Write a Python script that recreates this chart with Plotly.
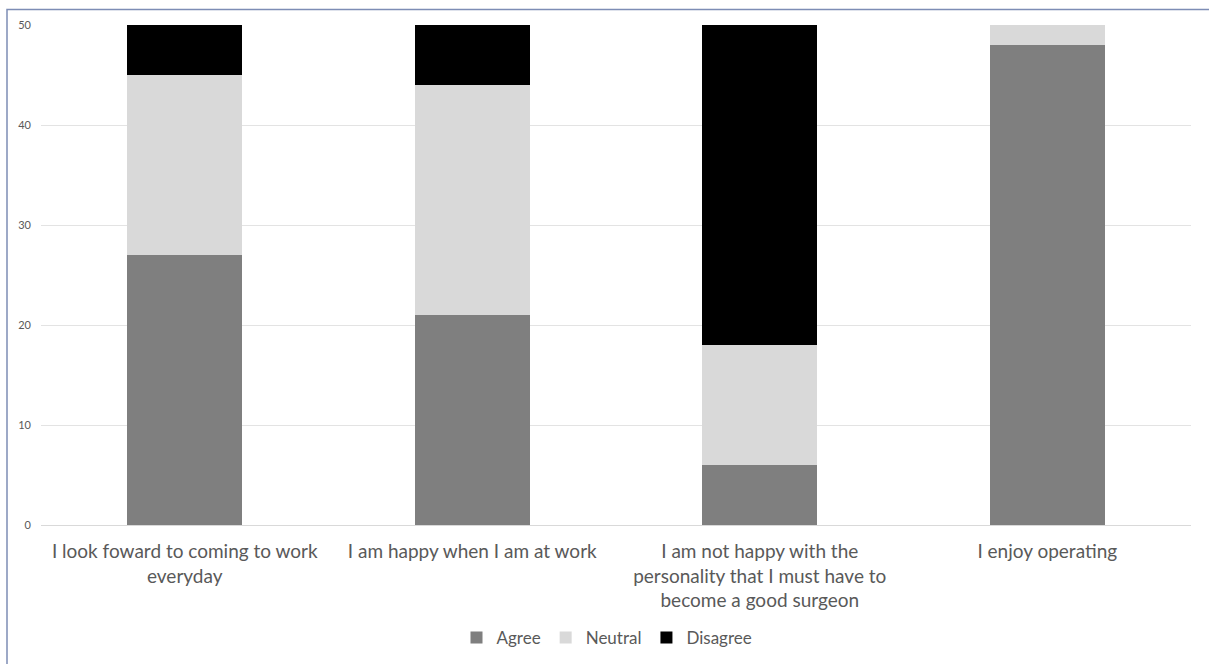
import plotly.graph_objects as go

categories = [
    "I look foward to coming to work<br>everyday",
    "I am happy when I am at work",
    "I am not happy with the<br>personality that I must have to<br>become a good surgeon",
    "I enjoy operating",
]
agree = [27, 21, 6, 48]
neutral = [18, 23, 12, 2]
disagree = [5, 6, 32, 0]
y_ticks = [0, 10, 20, 30, 40, 50]

W, H = 1209, 664
L, R, T, B = 41, 18, 25, 139
pw, ph = W - L - R, H - T - B

fig = go.Figure()
for name, vals, col in [("Agree", agree, "#7f7f7f"),
                        ("Neutral", neutral, "#d9d9d9"),
                        ("Disagree", disagree, "#000000")]:
    fig.add_trace(go.Bar(name=name, x=categories, y=vals, marker_color=col,
                         marker_line_width=0))

# outer chart frame
def px_to_paper_x(px):
    return (px - L) / pw

def px_to_paper_y(py):
    return (H - B - py) / ph

fig.add_shape(type="rect", xref="paper", yref="paper",
              x0=px_to_paper_x(7), x1=px_to_paper_x(1260),
              y0=px_to_paper_y(700), y1=px_to_paper_y(9.5),
              line=dict(color="#7d8db5", width=1.5), fillcolor="rgba(0,0,0,0)",
              layer="below")

fig.update_layout(
    barmode="stack",
    bargap=0.6,
    width=W, height=H,
    margin=dict(l=L, r=R, t=T, b=B, autoexpand=False),
    paper_bgcolor="white", plot_bgcolor="white",
    font=dict(family="Lato", color="#595959"),
    showlegend=True,
    legend=dict(orientation="h", x=px_to_paper_x(607), xanchor="center",
                yref="container", y=1 - 638 / H, yanchor="middle",
                font=dict(size=17, color="#595959"),
                traceorder="normal", itemwidth=30),
    xaxis=dict(showgrid=False, showline=True, linecolor="#d9d9d9", linewidth=1,
               tickfont=dict(size=19, color="#595959"), ticks="",
               ticklabelstandoff=9, automargin=False),
    yaxis=dict(range=[0, 50], tickvals=y_ticks, showgrid=True,
               gridcolor="#e3e3e3", gridwidth=1, zeroline=False,
               tickfont=dict(size=11, color="#595959"), ticklabelstandoff=9,
               automargin=False),
)

fig.write_html("out.html")
